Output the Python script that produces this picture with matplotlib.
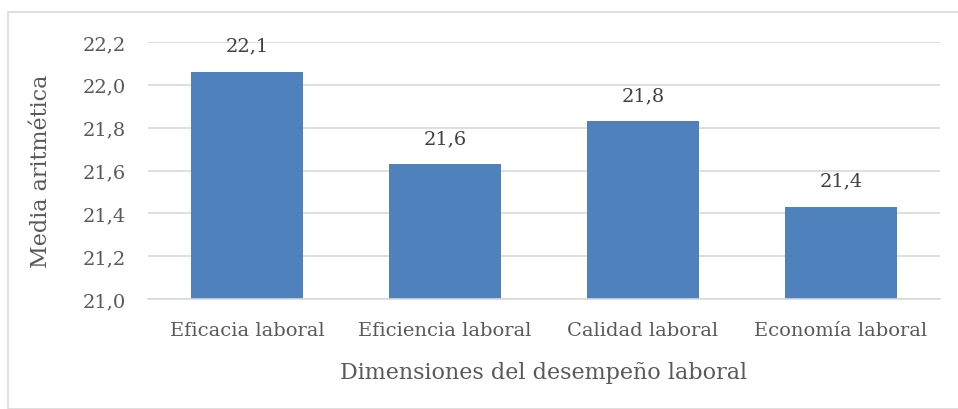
import matplotlib.pyplot as plt
from matplotlib.patches import Rectangle
from matplotlib.ticker import FuncFormatter

# Data
categorias = ['Eficacia laboral', 'Eficiencia laboral', 'Calidad laboral', 'Economía laboral']
medias = [22.06, 21.63, 21.83, 21.43]
etiquetas = ['22,1', '21,6', '21,8', '21,4']

plt.rcParams['font.family'] = ['DejaVu Serif']
gris = '#595959'

W, H = 958, 410
fig = plt.figure(figsize=(W / 100, H / 100), dpi=100)
fig.patches.append(Rectangle((8 / W, 0), 1, 1 - 13 / H, transform=fig.transFigure,
                             fill=False, edgecolor='#d9d9d9', linewidth=1.2))
ax = fig.add_axes([148 / W, 1 - 300 / H, (940 - 148) / W, (300 - 43) / H])

x = range(len(categorias))
bars = ax.bar(x, medias, width=0.57, color='#4F81BD', zorder=2)
for b, t in zip(bars, etiquetas):
    ax.text(b.get_x() + b.get_width() / 2, b.get_height() + 0.08, t,
            ha='center', va='bottom', fontsize=14, color='#404040')

ax.set_ylim(21.0, 22.2)
ax.set_xlim(-0.5, 3.5)
ax.set_yticks([21.0, 21.2, 21.4, 21.6, 21.8, 22.0, 22.2])
ax.yaxis.set_major_formatter(FuncFormatter(lambda v, p: f'{v:.1f}'.replace('.', ',')))
ax.set_xticks(list(x))
ax.set_xticklabels(categorias)
ax.tick_params(axis='both', length=0, labelsize=14, colors=gris)
ax.tick_params(axis='x', pad=16)
ax.tick_params(axis='y', pad=16)
ax.grid(axis='y', color='#d9d9d9', linewidth=1.2, zorder=0)
for s in ['top', 'right', 'left']:
    ax.spines[s].set_visible(False)
ax.spines['bottom'].set_color('#d9d9d9')
ax.spines['bottom'].set_linewidth(1.2)

ax.set_xlabel('Dimensiones del desempeño laboral', fontsize=16, color=gris, labelpad=16)
ax.set_ylabel('Media aritmética', fontsize=16, color=gris, labelpad=22)

fig.savefig('out.png', dpi=100)
